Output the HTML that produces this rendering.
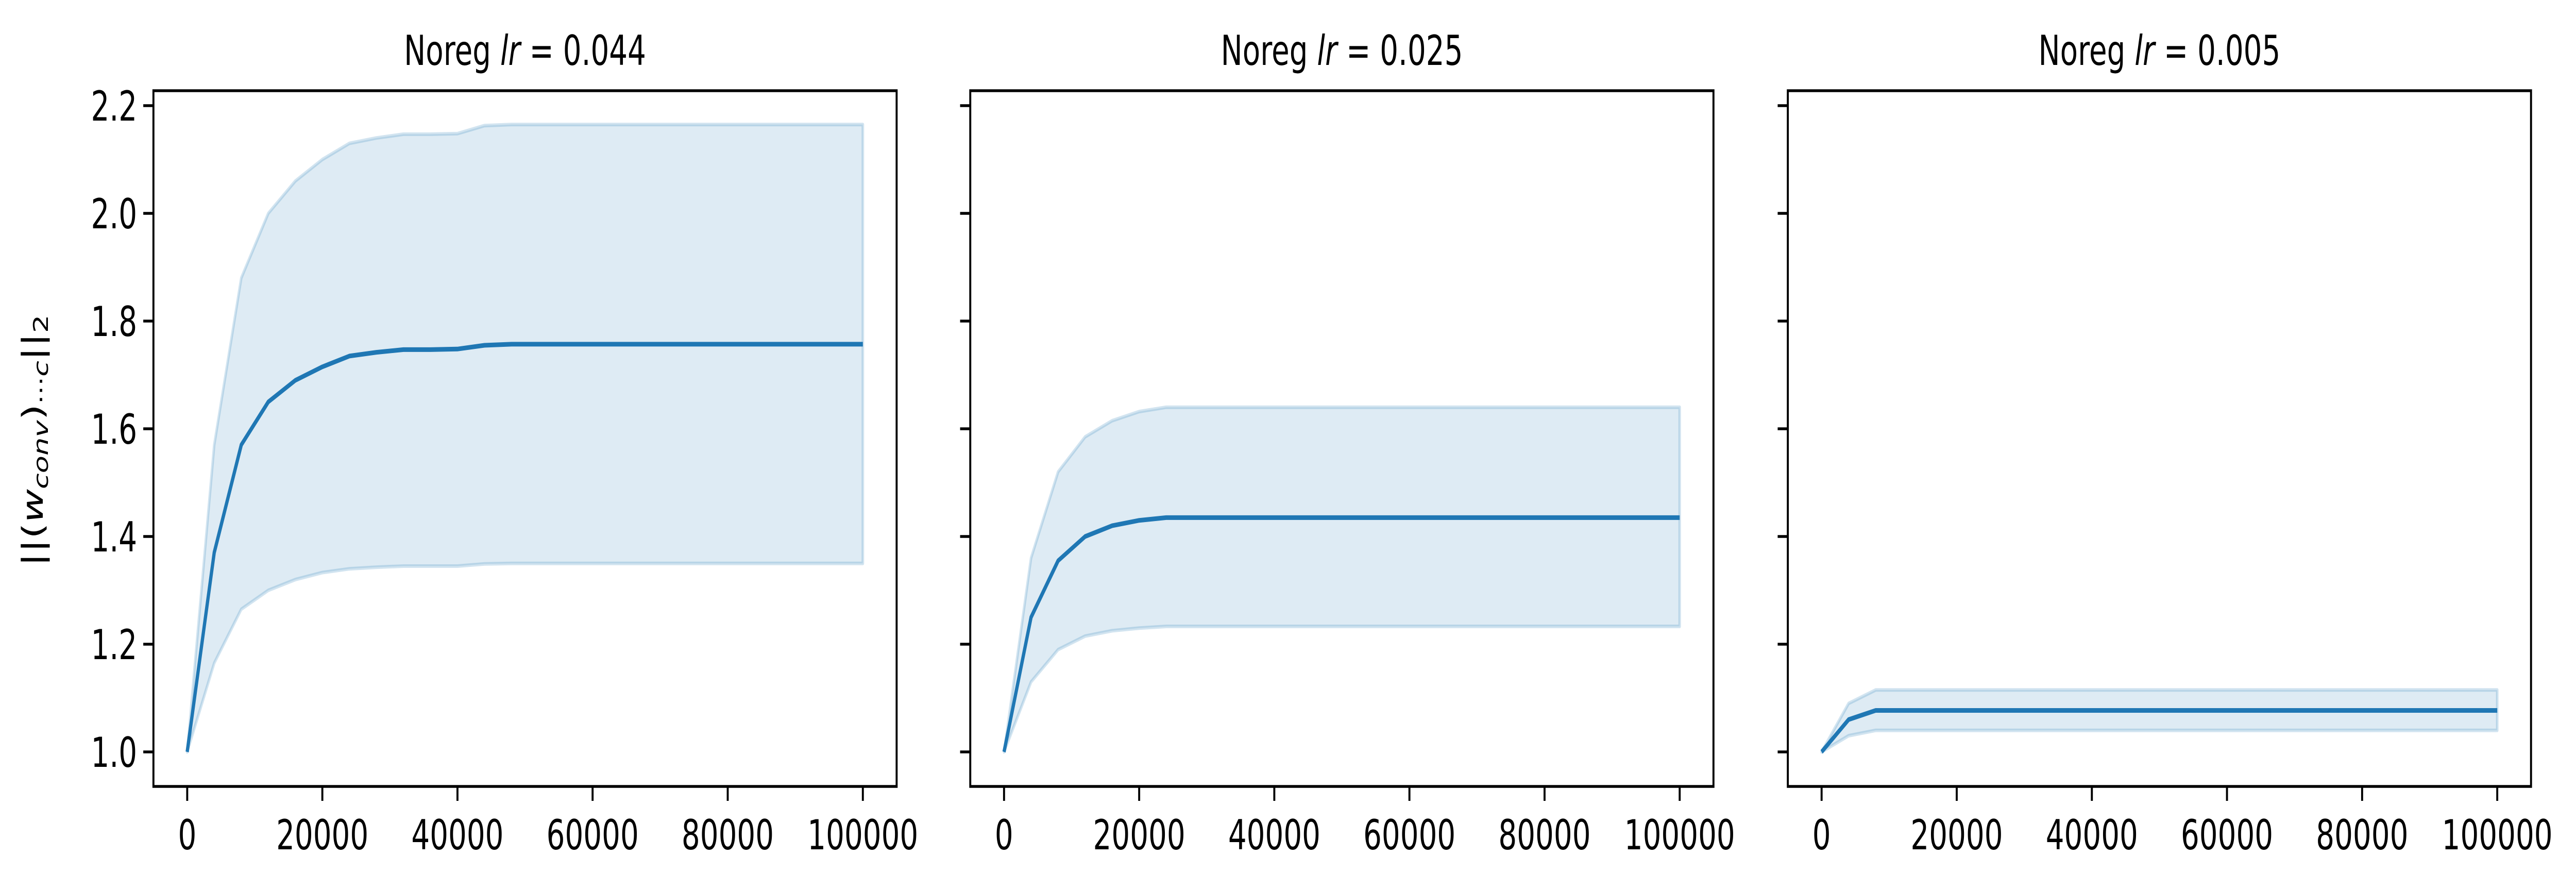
<!DOCTYPE html>
<html><head><meta charset="utf-8"><style>
html,body{margin:0;padding:0;background:#fff;overflow:hidden;width:100%;height:100%;}
#chart{display:block;width:100vw;height:100vh;}
svg text{font-family:"DejaVu Sans","Liberation Sans",sans-serif;}
</style></head><body>
<svg id="chart" xmlns="http://www.w3.org/2000/svg" viewBox="0 0 7102 1725" preserveAspectRatio="none">
<rect x="0" y="0" width="7102" height="1725" fill="#fff"/>
<text transform="translate(118,855) rotate(-90)" font-size="80" text-anchor="middle">||(<tspan font-style="italic">w</tspan><tspan font-style="italic" font-size="56" dy="14">conv</tspan><tspan dy="-14">)</tspan><tspan font-size="56" dy="14">···</tspan><tspan font-style="italic" font-size="56">c</tspan><tspan dy="-14">||</tspan><tspan font-size="56" dy="14">2</tspan></text>
</svg>
<script>
const steps = [0,4000,8000,12000,16000,20000,24000,28000,32000,36000,40000,44000,48000,52000,56000,60000,64000,68000,72000,76000,80000,84000,88000,92000,96000,100000];
const titles = ["0.044","0.025","0.005"];
const mean1 = [1.0,1.37,1.57,1.65,1.69,1.715,1.735,1.742,1.747,1.747,1.748,1.755,1.757,1.757,1.757,1.757,1.757,1.757,1.757,1.757,1.757,1.757,1.757,1.757,1.757,1.757];
const upper1 = [1.0,1.57,1.88,2.0,2.06,2.10,2.13,2.14,2.147,2.147,2.148,2.163,2.165,2.165,2.165,2.165,2.165,2.165,2.165,2.165,2.165,2.165,2.165,2.165,2.165,2.165];
const lower1 = [1.0,1.165,1.265,1.30,1.32,1.333,1.34,1.343,1.345,1.345,1.345,1.349,1.35,1.35,1.35,1.35,1.35,1.35,1.35,1.35,1.35,1.35,1.35,1.35,1.35,1.35];
const mean2 = [1.0,1.25,1.355,1.40,1.42,1.43,1.435,1.435,1.435,1.435,1.435,1.435,1.435,1.435,1.435,1.435,1.435,1.435,1.435,1.435,1.435,1.435,1.435,1.435,1.435,1.435];
const upper2 = [1.0,1.36,1.52,1.585,1.615,1.632,1.64,1.64,1.64,1.64,1.64,1.64,1.64,1.64,1.64,1.64,1.64,1.64,1.64,1.64,1.64,1.64,1.64,1.64,1.64,1.64];
const lower2 = [1.0,1.13,1.19,1.215,1.225,1.23,1.233,1.233,1.233,1.233,1.233,1.233,1.233,1.233,1.233,1.233,1.233,1.233,1.233,1.233,1.233,1.233,1.233,1.233,1.233,1.233];
const mean3 = [1.0,1.06,1.077,1.077,1.077,1.077,1.077,1.077,1.077,1.077,1.077,1.077,1.077,1.077,1.077,1.077,1.077,1.077,1.077,1.077,1.077,1.077,1.077,1.077,1.077,1.077];
const upper3 = [1.0,1.09,1.115,1.115,1.115,1.115,1.115,1.115,1.115,1.115,1.115,1.115,1.115,1.115,1.115,1.115,1.115,1.115,1.115,1.115,1.115,1.115,1.115,1.115,1.115,1.115];
const lower3 = [1.0,1.03,1.04,1.04,1.04,1.04,1.04,1.04,1.04,1.04,1.04,1.04,1.04,1.04,1.04,1.04,1.04,1.04,1.04,1.04,1.04,1.04,1.04,1.04,1.04,1.04];
const xTicks = [0,20000,40000,60000,80000,100000];
const yTicks = [1.0,1.2,1.4,1.6,1.8,2.0,2.2];

const NS="http://www.w3.org/2000/svg";
const svg=document.getElementById('chart');
const panelLefts=[423,2675,4929];
const PW=2049, TOP=176, BOT=1526;
const series=[[mean1,upper1,lower1],[mean2,upper2,lower2],[mean3,upper3,lower3]];
function mk(tag,attrs,parent){const e=document.createElementNS(NS,tag);for(const k in attrs)e.setAttribute(k,attrs[k]);(parent||svg).appendChild(e);return e;}
function yS(v){return 1459-(v-1)*1045;}
for(let p=0;p<3;p++){
  const L=panelLefts[p];
  const xS=v=>L+PW*(v+5000)/110000;
  const g=mk('g',{});
  
  
  const [m,u,lo]=series[p];
  let d='';
  steps.forEach((s,i)=>{d+=(i?'L':'M')+xS(s).toFixed(1)+','+yS(u[i]).toFixed(1);});
  for(let i=steps.length-1;i>=0;i--){d+='L'+xS(steps[i]).toFixed(1)+','+yS(lo[i]).toFixed(1);}
  d+='Z';
  const band=mk('path',{d:d,fill:'#1f77b4','fill-opacity':'0.15',stroke:'#1f77b4','stroke-opacity':'0.2','stroke-width':'7','stroke-linejoin':'round'},g);
  
  
  let dl='';
  steps.forEach((s,i)=>{dl+=(i?'L':'M')+xS(s).toFixed(1)+','+yS(m[i]).toFixed(1);});
  const line=mk('path',{d:dl,fill:'none',stroke:'#1f77b4','stroke-width':'9','stroke-linejoin':'round'},g);
  
  
  const frame=mk('rect',{x:L,y:TOP,width:PW,height:BOT-TOP,fill:'none',stroke:'#000','stroke-width':'5.5'},g);
  
  
  xTicks.forEach(t=>{
    const x=xS(t);
    const tk=mk('line',{x1:x,x2:x,y1:BOT,y2:BOT+28,stroke:'#000','stroke-width':'5.5'},g);
    
    
    const tx=mk('text',{x:x,y:1648,'font-size':'80','text-anchor':'middle'},g);
    
    
    tx.textContent=String(t);
  });
  yTicks.forEach(t=>{
    const y=yS(t);
    const tk=mk('line',{x1:L-28,x2:L,y1:y,y2:y,stroke:'#000','stroke-width':'5.5'},g);
    
    
    if(p===0){
      const tx=mk('text',{x:L-45,y:y+29,'font-size':'80','text-anchor':'end'},g);
      
      
      tx.textContent=t.toFixed(1);
    }
  });
  const tt=mk('text',{x:L+PW/2,y:126,'font-size':'80','text-anchor':'middle'},g);
  
  
  tt.innerHTML='Noreg <tspan font-style="italic">lr</tspan> = '+titles[p];
}
</script>
</body></html>
